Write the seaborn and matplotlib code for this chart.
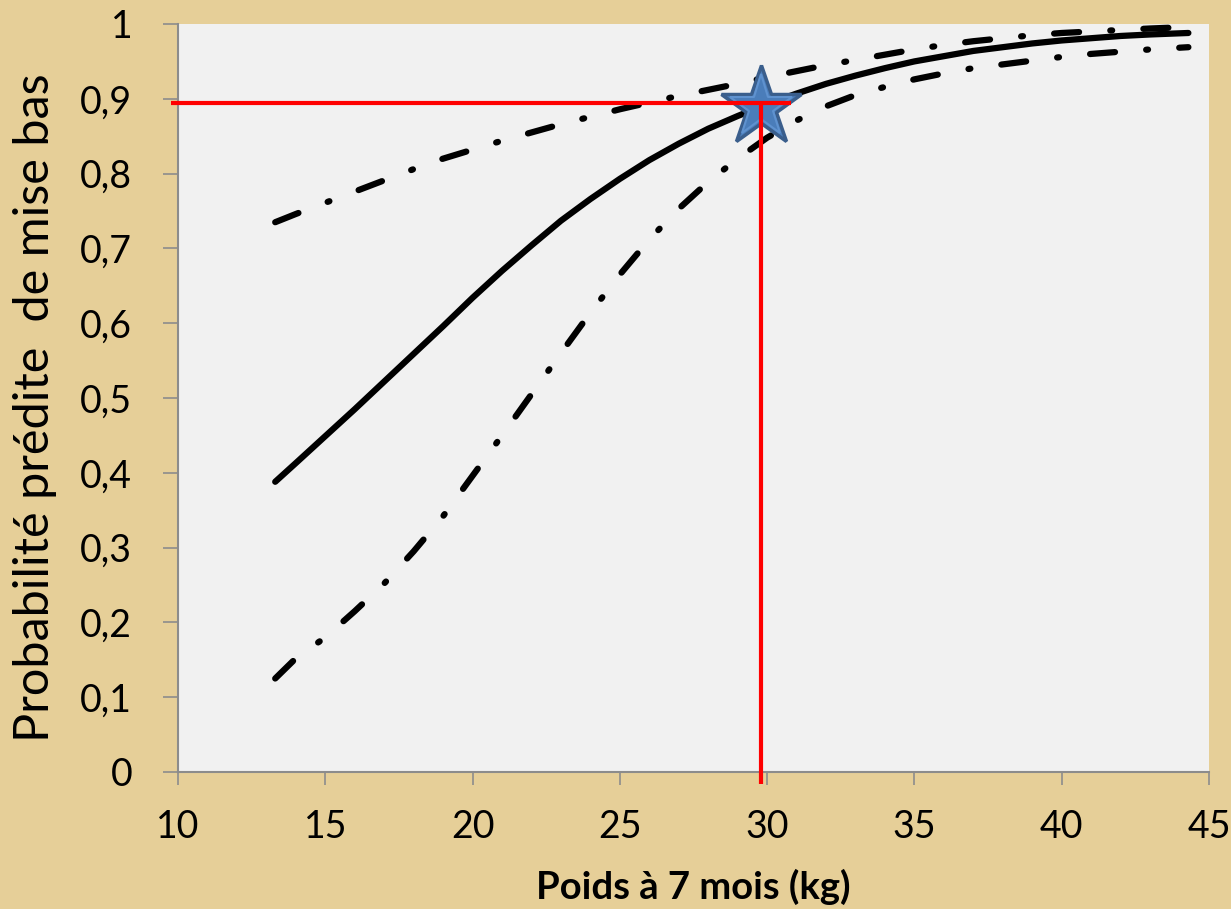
import matplotlib
matplotlib.use("Agg")
import matplotlib.pyplot as plt
import seaborn as sns
import pandas as pd
from matplotlib.ticker import FixedLocator

# ---------------- data ----------------
weight_solid = [13.3, 14, 15, 16, 17, 18, 19, 20, 21, 22, 23, 24, 25, 26, 27, 28, 29, 30,
                31, 32, 33, 34, 35, 36, 37, 38, 39, 40, 41, 42, 43, 44.3]
prob_solid = [0.388, 0.413, 0.449, 0.485, 0.522, 0.559, 0.596, 0.634, 0.670, 0.704,
              0.737, 0.766, 0.793, 0.818, 0.840, 0.860, 0.877, 0.893, 0.907, 0.920,
              0.931, 0.941, 0.950, 0.957, 0.964, 0.969, 0.974, 0.978, 0.981, 0.984,
              0.986, 0.988]

weight_lower = [13.3, 14, 15, 16, 17, 18, 19, 20, 21, 22, 23, 24, 25, 26, 27, 28, 29, 30,
                31, 32, 33, 34, 35, 36, 37, 38, 39, 40, 41, 42, 43, 44.3]
prob_lower = [0.125, 0.152, 0.180, 0.215, 0.252, 0.295, 0.342, 0.396, 0.450, 0.505,
              0.560, 0.614, 0.665, 0.712, 0.753, 0.789, 0.820, 0.848, 0.871, 0.890,
              0.905, 0.916, 0.926, 0.934, 0.941, 0.946, 0.951, 0.956, 0.960, 0.963,
              0.966, 0.969]

weight_upper = [13.3, 14, 15, 16, 17, 18, 19, 20, 21, 22, 23, 24, 25, 26, 27, 28, 29, 30,
                31, 32, 33, 34, 35, 36, 37, 38, 39, 40, 41, 42, 43, 44.3]
prob_upper = [0.735, 0.746, 0.761, 0.776, 0.791, 0.806, 0.820, 0.832, 0.844, 0.855,
              0.866, 0.876, 0.886, 0.895, 0.904, 0.912, 0.920, 0.929, 0.937, 0.945,
              0.952, 0.959, 0.966, 0.972, 0.977, 0.981, 0.985, 0.988, 0.990, 0.992,
              0.994, 0.996]

target_weight = 29.8
target_prob = 0.894
star_prob = 0.889
hline_x = [9.75, 30.8]
vline_y = [-0.016, 0.894]

x_ticks = [10, 15, 20, 25, 30, 35, 40, 45]
x_tick_labels = ["10", "15", "20", "25", "30", "35", "40", "45"]
y_ticks = [0, 0.1, 0.2, 0.3, 0.4, 0.5, 0.6, 0.7, 0.8, 0.9, 1.0]
y_tick_labels = ["0", "0,1", "0,2", "0,3", "0,4", "0,5", "0,6", "0,7", "0,8", "0,9", "1"]

x_label = "Poids à 7 mois (kg)"
y_label = "Probabilité prédite  de mise bas"

# ---------------- styling ----------------
sns.set_theme(style="white")
plt.rcParams["font.family"] = ["Lato", "DejaVu Sans"]

BG = "#E6CF98"
PLOT_BG = "#F1F1F1"
AXIS_GRAY = "#8C8C8C"

fig = plt.figure(figsize=(12.31, 9.09), dpi=100, facecolor=BG)
ax = fig.add_axes([178 / 1231, 137 / 909, 1031 / 1231, 748 / 909])
ax.set_facecolor(PLOT_BG)

lw = 4.5
dashdot = (0, (4.0, 5.0, 0.3, 5.0))

df_solid = pd.DataFrame({"x": weight_solid, "y": prob_solid})
df_lower = pd.DataFrame({"x": weight_lower, "y": prob_lower})
df_upper = pd.DataFrame({"x": weight_upper, "y": prob_upper})

sns.lineplot(data=df_solid, x="x", y="y", ax=ax, color="black", linewidth=lw,
             solid_capstyle="round", solid_joinstyle="round", zorder=3)
sns.lineplot(data=df_lower, x="x", y="y", ax=ax, color="black", linewidth=lw,
             linestyle=dashdot, dash_capstyle="round", dash_joinstyle="round", zorder=3)
sns.lineplot(data=df_upper, x="x", y="y", ax=ax, color="black", linewidth=lw,
             linestyle=dashdot, dash_capstyle="round", dash_joinstyle="round", zorder=3)

# star marker (with a lighter inner bevel outline)
ax.plot([target_weight], [star_prob], marker="*", ms=61, mfc="#4A7DBA",
        mec="#3A5E8C", mew=2.5, linestyle="none", zorder=4, clip_on=False)
ax.plot([target_weight], [star_prob], marker="*", ms=47, mfc="none",
        mec="#5F92CF", mew=1.5, linestyle="none", zorder=4, clip_on=False)

# red reference lines
ax.plot(hline_x, [target_prob, target_prob], color="#FF0000", linewidth=3,
        zorder=5, clip_on=False, solid_capstyle="butt")
ax.plot([target_weight, target_weight], vline_y, color="#FF0000", linewidth=3,
        zorder=5, clip_on=False, solid_capstyle="butt")

ax.set_xlim(10, 45)
ax.set_ylim(0, 1)
ax.xaxis.set_major_locator(FixedLocator(x_ticks))
ax.yaxis.set_major_locator(FixedLocator(y_ticks))
ax.set_xticklabels(x_tick_labels)
ax.set_yticklabels(y_tick_labels)

for side in ["top", "right"]:
    ax.spines[side].set_visible(False)
for side in ["left", "bottom"]:
    ax.spines[side].set_color(AXIS_GRAY)
    ax.spines[side].set_linewidth(1.5)

ax.tick_params(axis="y", direction="out", length=11, width=1.2, color=AXIS_GRAY,
               labelsize=27, pad=22, labelcolor="black", left=True)
ax.tick_params(axis="x", direction="out", length=9.5, width=1.2, color=AXIS_GRAY,
               labelsize=27, pad=17, labelcolor="black", bottom=True)

ax.set_xlabel(x_label, fontsize=27.5, fontweight="bold", color="black")
ax.set_ylabel(y_label, fontsize=35, color="black")
ax.xaxis.set_label_coords(0.5, -0.129)
ax.yaxis.set_label_coords(-0.117, 0.487)

fig.savefig("out.png", dpi=100, facecolor=BG)
